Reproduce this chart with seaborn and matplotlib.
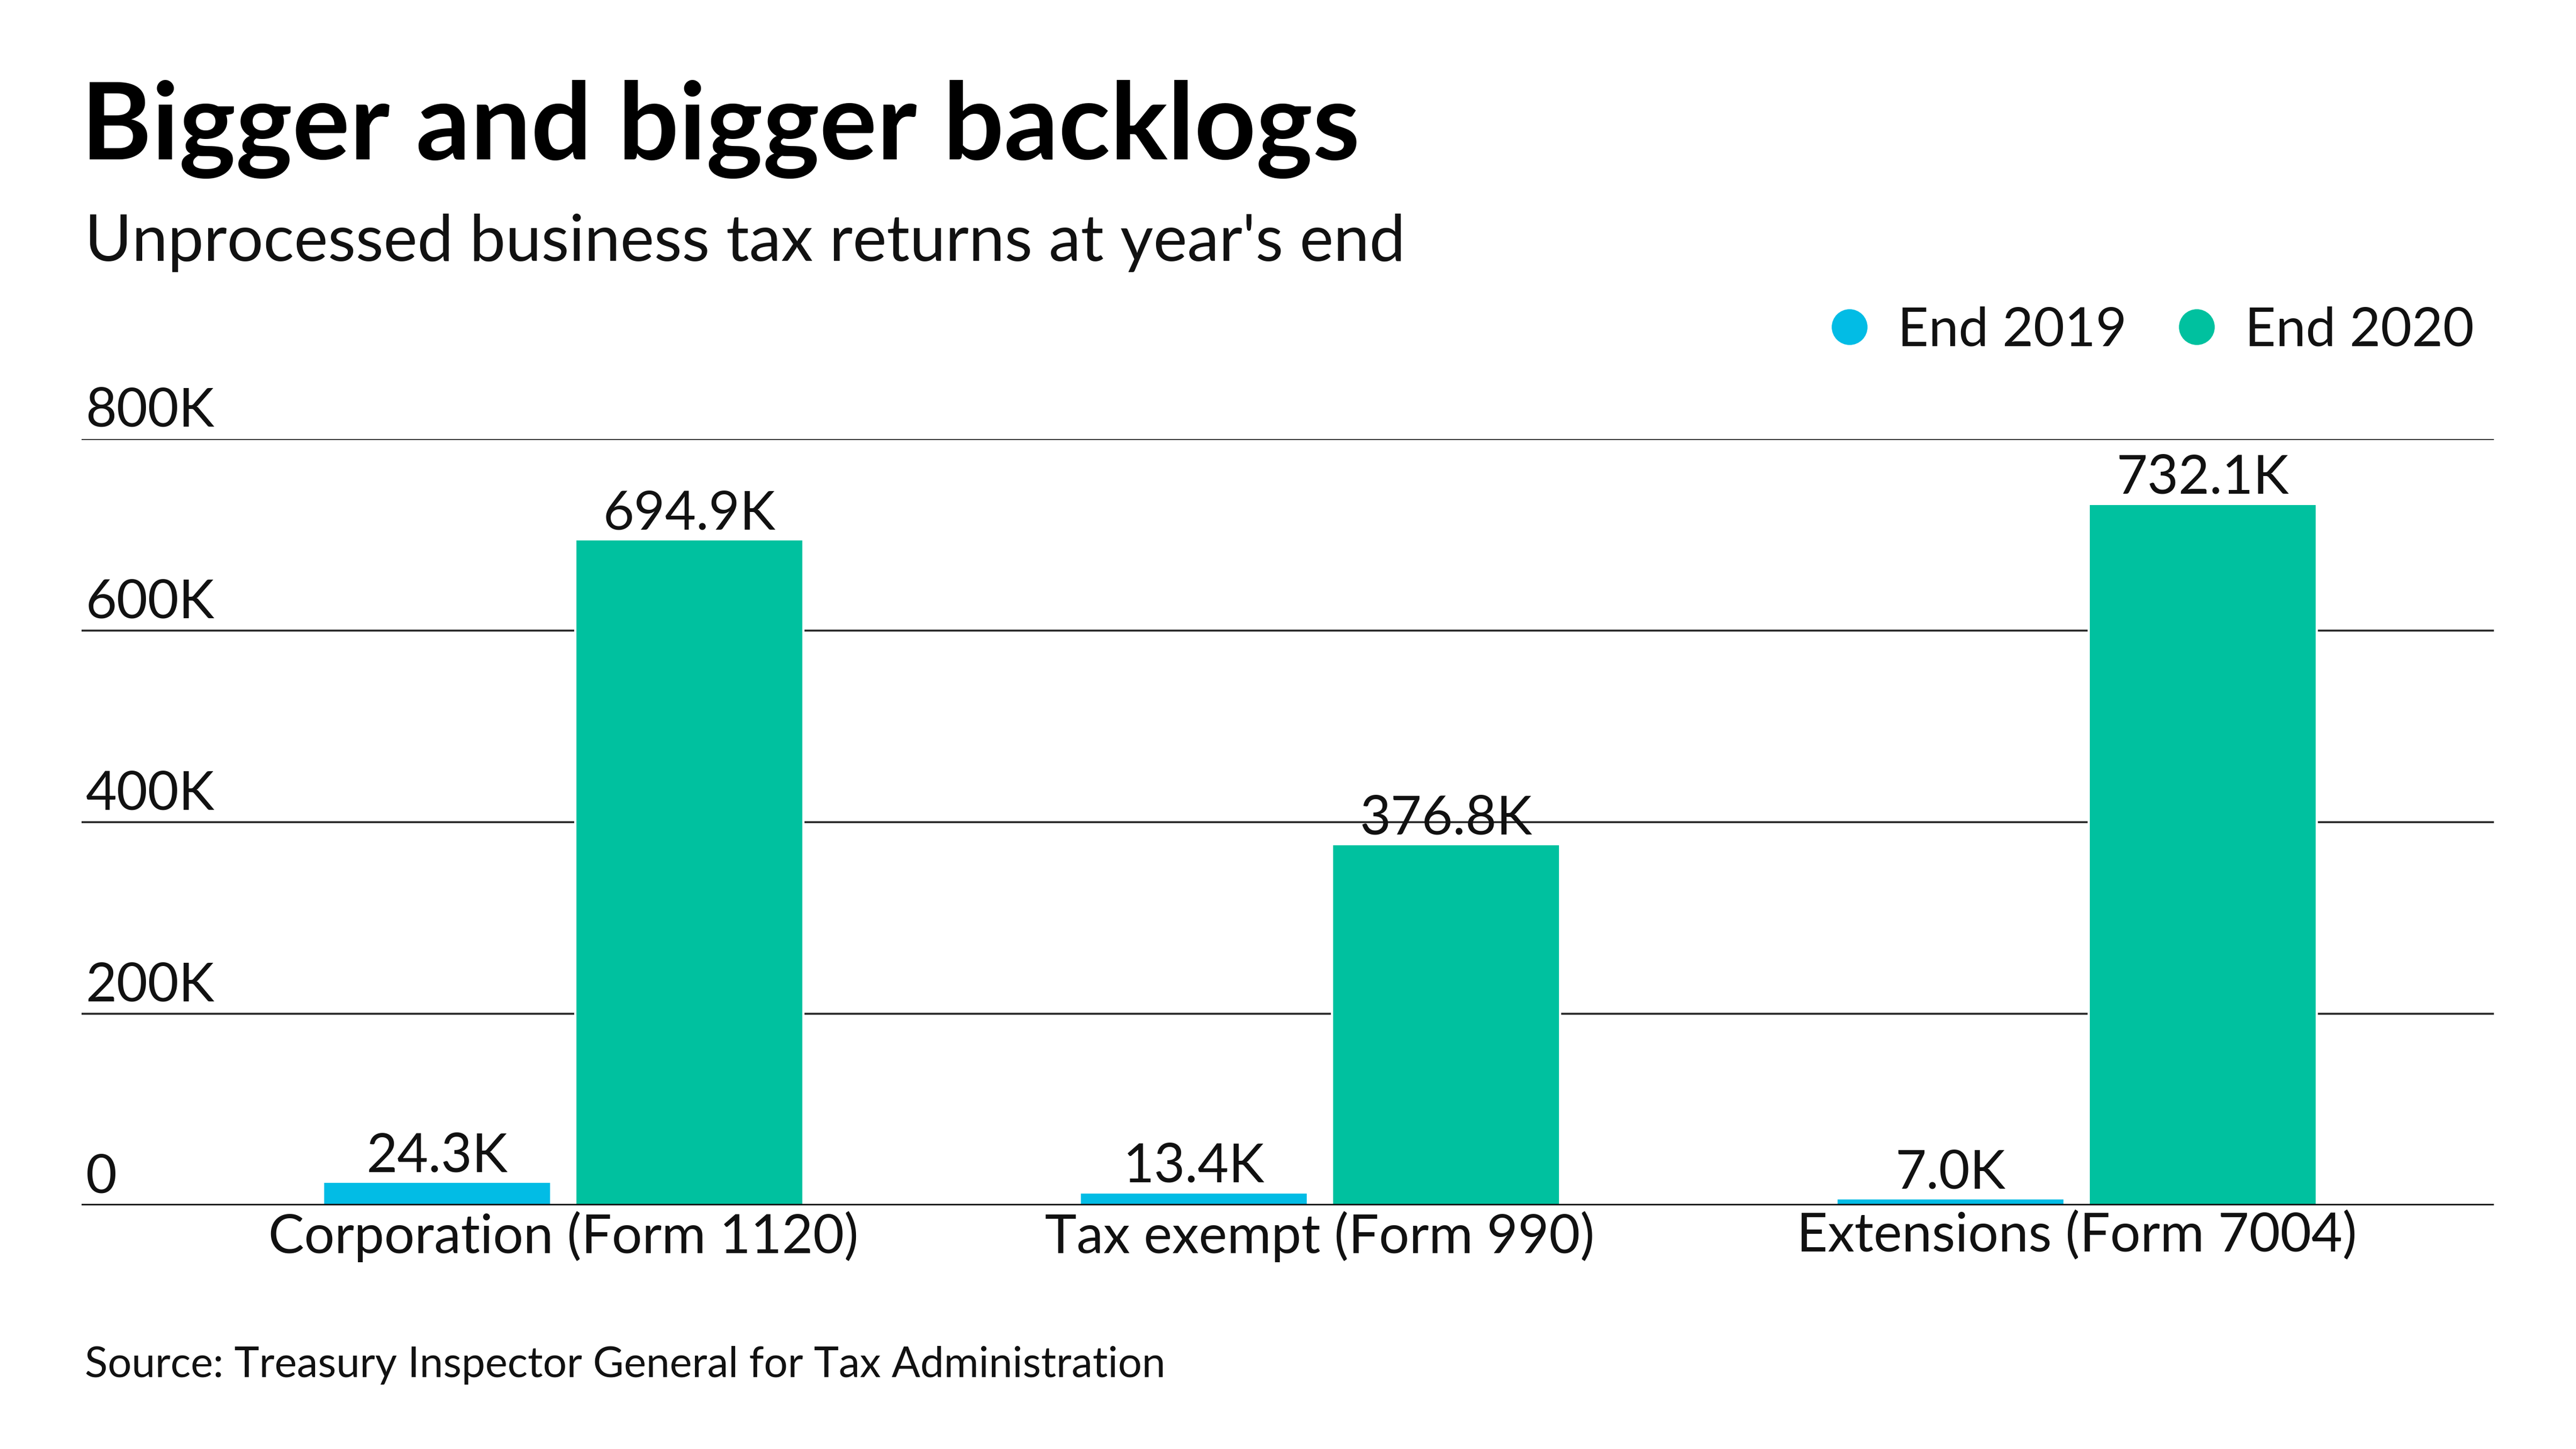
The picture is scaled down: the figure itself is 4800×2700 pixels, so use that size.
import numpy as np
import pandas as pd
import matplotlib.pyplot as plt
import matplotlib.transforms as mtransforms
from matplotlib.lines import Line2D
import seaborn as sns

categories = ['Corporation (Form 1120)', 'Tax exempt (Form 990)', 'Extensions (Form 7004)']
series = ['End 2019', 'End 2020']
end_2019 = [24.3, 13.4, 7.0]
end_2020 = [694.9, 376.8, 732.1]
y_ticks = [0, 200, 400, 600, 800]
y_tick_labels = ['0', '200K', '400K', '600K', '800K']
colors = ['#02BCE5', '#00C19F']

df = pd.DataFrame({
    'category': categories * 2,
    'series': [series[0]] * 3 + [series[1]] * 3,
    'value': end_2019 + end_2020,
})

sns.set_theme(style='white')
plt.rcParams['font.family'] = ['Lato', 'DejaVu Sans']

fig = plt.figure(figsize=(16, 9), dpi=300)
ax = fig.add_axes([0.03167, 0.1682, 0.93646, 0.5289])

sns.barplot(data=df, x='category', y='value', hue='series', palette=colors,
            width=0.6667, gap=0.096, saturation=1, ax=ax, legend=False)

ax.set_xlim(-0.6365, 2.5514)
ax.set_ylim(0, 800)
ax.set_xlabel('')
ax.set_ylabel('')
for s in ax.spines.values():
    s.set_visible(False)

# grid lines
for v in y_ticks[1:]:
    ax.axhline(v, color='#222222', lw=0.85, zorder=0)
ax.axhline(0, color='#111111', lw=1.6, zorder=3)

# y labels sit above the lines
ax.set_yticks([])
off = mtransforms.offset_copy(ax.get_yaxis_transform(), fig=fig, x=1.8, y=5.5, units='points')
for v, lab in zip(y_ticks, y_tick_labels):
    ax.text(0, v, lab, transform=off, ha='left', va='baseline', fontsize=24, color='#111111')

ax.tick_params(axis='x', length=0, pad=2.5, labelsize=24, labelcolor='#111111')

# value labels
for cont in ax.containers:
    ax.bar_label(cont, labels=[f'{v:.1f}K' for v in cont.datavalues], padding=0.5,
                 fontsize=24, color='#111111')

fig.text(0.0315, 0.89, 'Bigger and bigger backlogs', fontsize=48, fontweight='bold',
         color='black', va='baseline')
fig.text(0.033, 0.82, "Unprocessed business tax returns at year's end", fontsize=28.7,
         color='#111111', va='baseline')
fig.text(0.033, 0.0496, 'Source: Treasury Inspector General for Tax Administration',
         fontsize=18.9, color='#111111', va='baseline')

handles = [Line2D([0], [0], marker='o', linestyle='', markersize=15, color=c) for c in colors]
fig.legend(handles, series, loc='center right', bbox_to_anchor=(0.9605, 0.772), ncol=2,
           frameon=False, fontsize=24, handlelength=0.8, handletextpad=0.5,
           columnspacing=0.9, borderaxespad=0, borderpad=0, labelcolor='#111111')

fig.savefig('out.png', dpi=300)
